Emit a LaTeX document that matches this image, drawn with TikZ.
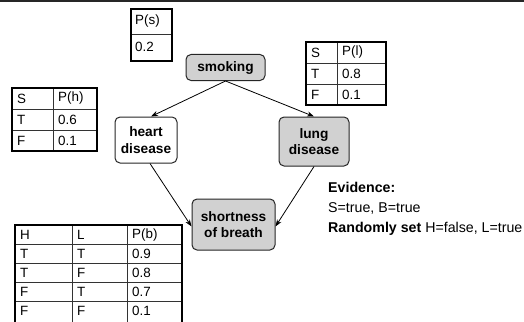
\documentclass[tikz,border=0pt]{standalone}
\usepackage{fontspec}
\setmainfont{Liberation Sans}
\usetikzlibrary{arrows.meta}
\begin{document}
\begin{tikzpicture}[x=1pt,y=-1pt,
  bnode/.style={draw=black!85, line width=1pt, rounded corners=5pt, align=center,
    font=\fontsize{13.7}{16.5}\selectfont\bfseries, inner sep=0pt},
  shaded/.style={bnode, fill=black!18},
  plain/.style={bnode, fill=white},
  arr/.style={-{Stealth[length=7pt,width=5pt]}, line width=0.8pt, black},
  tabout/.style={line width=1.4pt, black},
  tabin/.style={line width=0.7pt, black!80},
  celltxt/.style={anchor=west, inner sep=0pt, font=\fontsize{13.4}{15}\selectfont},
  evtxt/.style={anchor=west, inner sep=0pt, font=\fontsize{14.2}{16}\selectfont}]
\useasboundingbox (0,0) rectangle (524,321);
\clip (0,0) rectangle (524,321);

% rule across the top
\draw[line width=2pt, black!85] (0,1.5) -- (524,1.5);

% ---- P(s) ----
\draw[tabin] (131,34) -- (172,34);
\draw[tabout] (131,9) rectangle (172,61);
\node[celltxt] (ps1) at (135,21) {P(s)};
\node[celltxt] (ps2) at (135,47) {0.2};

% ---- P(l) ----
\draw[tabin] (306,63) -- (386,63) (306,84) -- (386,84) (337,42) -- (337,105);
\draw[tabout] (306,42) rectangle (386,105);
\node[celltxt] (pl11) at (311,52.5) {S};
\node[celltxt] (pl12) at (342,52.5) {P(l)};
\node[celltxt] (pl21) at (311,73.5) {T};
\node[celltxt] (pl22) at (342,73.5) {0.8};
\node[celltxt] (pl31) at (311,94.5) {F};
\node[celltxt] (pl32) at (342,94.5) {0.1};

% ---- P(h) ----
\draw[tabin] (12,109) -- (97,109) (12,130) -- (97,130) (53,88) -- (53,151);
\draw[tabout] (12,88) rectangle (97,151);
\node[celltxt] (ph11) at (17,98.5) {S};
\node[celltxt] (ph12) at (58,98.5) {P(h)};
\node[celltxt] (ph21) at (17,119.5) {T};
\node[celltxt] (ph22) at (58,119.5) {0.6};
\node[celltxt] (ph31) at (17,140.5) {F};
\node[celltxt] (ph32) at (58,140.5) {0.1};

% ---- P(b) ----
\draw[tabin] (15,244.5) -- (182,244.5) (15,263.5) -- (182,263.5) (15,282.5) -- (182,282.5)
  (15,301.5) -- (182,301.5) (72,225) -- (72,330) (127,225) -- (127,330);
\draw[tabout] (15,330) -- (15,225) -- (182,225) -- (182,330);
\node[celltxt] (pb11) at (20,235) {H};
\node[celltxt] (pb12) at (77,235) {L};
\node[celltxt] (pb13) at (132,235) {P(b)};
\node[celltxt] (pb21) at (20,254) {T};
\node[celltxt] (pb22) at (77,254) {T};
\node[celltxt] (pb23) at (132,254) {0.9};
\node[celltxt] (pb31) at (20,273) {T};
\node[celltxt] (pb32) at (77,273) {F};
\node[celltxt] (pb33) at (132,273) {0.8};
\node[celltxt] (pb41) at (20,292) {F};
\node[celltxt] (pb42) at (77,292) {T};
\node[celltxt] (pb43) at (132,292) {0.7};
\node[celltxt] (pb51) at (20,311) {F};
\node[celltxt] (pb52) at (77,311) {F};
\node[celltxt] (pb53) at (132,311) {0.1};

% ---- network ----
\node[shaded, minimum width=79pt, minimum height=26pt] (smoking) at (225.5,67.5) {smoking};
\node[plain, minimum width=62pt, minimum height=46pt] (heart) at (146,140) {heart\\disease};
\node[shaded, minimum width=70pt, minimum height=49pt] (lung) at (314,141.5) {lung\\disease};
\node[shaded, minimum width=83pt, minimum height=51pt] (breath) at (233.5,224.5) {shortness\\of breath};

\draw[arr] (smoking.south) -- ([xshift=5pt]heart.north);
\draw[arr] (smoking.south) -- (lung.north);
\draw[arr] ([xshift=4pt]heart.south) -- ([yshift=-2pt]breath.west);
\draw[arr] (lung.south) -- ([yshift=-2pt]breath.east);

% ---- evidence ----
\node[evtxt] (ev1) at (328,187) {\bfseries Evidence:};
\node[evtxt] (ev2) at (328,208) {S=true, B=true};
\node[evtxt] (ev3) at (328,228.5) {\bfseries Randomly set \mdseries H=false, L=true};
\end{tikzpicture}
\end{document}
